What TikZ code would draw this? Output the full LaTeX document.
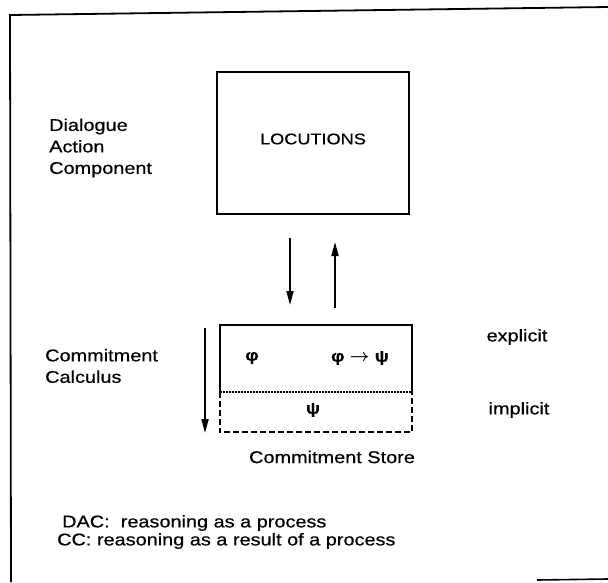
\documentclass[tikz,border=0pt]{standalone}
\usepackage{amsmath}
\usepackage{fontspec}
\setmainfont{Liberation Sans}[FakeStretch=1.17,FakeBold=0.5]
\usetikzlibrary{arrows.meta}
\begin{document}
\begin{tikzpicture}[x=1pt,y=-1pt,
  lbl/.style={font=\fontsize{17}{21.5}\selectfont, inner sep=0pt, align=left},
  sym/.style={font=\fontsize{16}{18}\bfseries, inner sep=0pt},
  boxline/.style={line width=1.8pt},
  arr/.style={line width=1.8pt, -{Triangle[length=14pt,width=7pt]}}]
\useasboundingbox (0,0) rectangle (608,582);
% frame
\coordinate (ftr) at (608,7);
\coordinate (ftl) at (10,15);
\coordinate (fbl) at (11,582);
\coordinate (fbr1) at (537,580);
\coordinate (fbr2) at (608,579);
\draw[line width=1.8pt] (ftr) -- (ftl) -- (fbl);
\draw[line width=1.6pt] (fbr1) -- (fbr2);
% dialogue action component
\node[draw, boxline, minimum width=192pt, minimum height=142pt, inner sep=0pt] (loc) at (313,143) {};
\node[lbl, font=\fontsize{15.5}{18}\selectfont] (loctext) at (313,139) {LOCUTIONS};
\node[lbl, anchor=west] (dac) at (49,148) {Dialogue\\Action\\Component};
% commitment store
\node[minimum width=192pt, minimum height=67pt, inner sep=0pt] (up) at (316,358.5) {};
\node[minimum width=192pt, minimum height=40pt, inner sep=0pt] (low) at (316,412) {};
\draw[boxline] (up.south west) |- (up.north east) -- (up.south east);
\draw[boxline, dash pattern=on 2pt off 1pt] (up.south west) -- (up.south east);
\draw[boxline, dash pattern=on 6pt off 3pt] (low.north west) |- (low.south east) -- (low.north east);
\node[sym] (phi) at (252,358) {φ};
\node[sym] (impl) at (360,358) {φ $\boldsymbol{\rightarrow}$ ψ};
\node[sym] (psi) at (313,410) {ψ};
\node[lbl] (cstore) at (332,457) {Commitment Store};
\node[lbl, anchor=west] (cc) at (45,366) {Commitment\\Calculus};
\node[lbl] (expl) at (517,337) {explicit};
\node[lbl] (impl2) at (519,410) {implicit};
% arrows
\coordinate (d1) at (290,238);
\coordinate (d2) at (290,305);
\coordinate (u1) at (335,308);
\coordinate (u2) at (335,242);
\coordinate (l1) at (205,328);
\coordinate (l2) at (205,433);
\draw[arr] (d1) -- (d2);
\draw[arr] (u1) -- (u2);
\draw[arr] (l1) -- (l2);
% notes
\node[lbl, anchor=west] (note1) at (62,523) {DAC:\ \ reasoning as a process};
\node[lbl, anchor=west] (note2) at (57,541) {CC: reasoning as a result of a process};
\end{tikzpicture}
\end{document}
